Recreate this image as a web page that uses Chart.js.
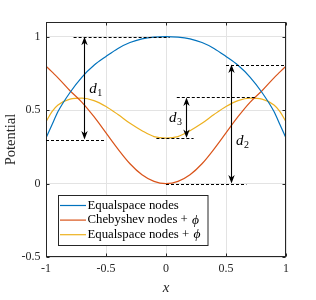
<!DOCTYPE html>
<html><head><meta charset="utf-8">
<script src="https://cdn.jsdelivr.net/npm/chart.js@4/dist/chart.umd.min.js"></script>
<style>html,body{margin:0;padding:0;background:#fff}canvas{display:block}</style>
</head><body>
<canvas id="c" width="316" height="300"></canvas>
<script>
// ---- data ----
const xValues       = [-1, -0.95, -0.9, -0.8, -0.7, -0.6, -0.5, -0.4, -0.3, -0.2, -0.1, 0, 0.1, 0.2, 0.3, 0.4, 0.5, 0.6, 0.7, 0.8, 0.9, 0.95, 1];
const equalspace    = [0.31, 0.40, 0.49, 0.62, 0.725, 0.805, 0.865, 0.92, 0.96, 0.985, 0.997, 1, 0.997, 0.985, 0.96, 0.92, 0.865, 0.805, 0.725, 0.62, 0.49, 0.40, 0.31];
const chebyshevPhi  = [0.80, 0.76, 0.72, 0.632, 0.553, 0.455, 0.345, 0.235, 0.135, 0.06, 0.015, 0, 0.015, 0.06, 0.135, 0.235, 0.345, 0.455, 0.553, 0.632, 0.72, 0.76, 0.80];
const equalspacePhi = [0.42, 0.49, 0.535, 0.575, 0.582, 0.565, 0.525, 0.47, 0.41, 0.36, 0.32, 0.31, 0.32, 0.36, 0.41, 0.47, 0.525, 0.565, 0.582, 0.575, 0.535, 0.49, 0.42];
const xTicks = [-1, -0.5, 0, 0.5, 1];
const yTicks = [-0.5, 0, 0.5, 1];
const seriesNames = ['Equalspace nodes', 'Chebyshev nodes + \u03d5', 'Equalspace nodes + \u03d5'];
// annotation values (data units)
const dashX1 = [-0.77, -1, 0.5, 0, 0.09, -0.08];
const dashX2 = [0.03, -0.5, 1, 0.67, 0.74, 0.23];
const dashY  = [1, 0.3, 0.81, 0, 0.586, 0.31];
const arrowX   = [-0.68, 0.54, 0.167];
const arrowLow = [0.3, 0, 0.31];
const arrowHigh= [1, 0.81, 0.586];
const arrowSub = ['1', '2', '3'];
const labelX   = [-0.64, 0.583, 0.025];
const labelY   = [0.62, 0.264, 0.42];

const colors = ['#0072BD', '#D95319', '#EDB120'];
const SERIF = '"Liberation Serif", "DejaVu Serif", serif';

function pts(ys) { return xValues.map((x, i) => ({x: x, y: ys[i]})); }

const annot = {
  id: 'annot',
  afterDraw(chart) {
    const {ctx, chartArea: a, scales} = chart;
    const X = v => scales.x.getPixelForValue(v), Y = v => scales.y.getPixelForValue(v);
    ctx.save();
    // box
    ctx.strokeStyle = '#262626'; ctx.lineWidth = 1; ctx.setLineDash([]);
    const L = Math.round(a.left) + 0.5, R = Math.round(a.right) - 0.5, T = Math.round(a.top) + 0.5, B = Math.round(a.bottom) - 0.5;
    ctx.strokeRect(L, T, R - L, B - T);
    // inward ticks
    ctx.beginPath();
    xTicks.forEach(v => { const p = Math.round(X(v)) + 0.5; ctx.moveTo(p, B); ctx.lineTo(p, B - 3); ctx.moveTo(p, T); ctx.lineTo(p, T + 3); });
    yTicks.forEach(v => { const p = Math.round(Y(v)) + 0.5; ctx.moveTo(L, p); ctx.lineTo(L + 3, p); ctx.moveTo(R, p); ctx.lineTo(R - 3, p); });
    ctx.stroke();
    // dashed lines
    ctx.strokeStyle = '#000'; ctx.lineWidth = 1; ctx.setLineDash([3, 2]);
    ctx.beginPath();
    dashY.forEach((y, i) => { const p = Math.round(Y(y)) + 0.5; ctx.moveTo(X(dashX1[i]), p); ctx.lineTo(X(dashX2[i]), p); });
    ctx.stroke();
    ctx.setLineDash([]);
    // arrows
    arrowX.forEach((x, i) => {
      const cx = Math.round(X(x)) + 0.5;
      const yTop = Y(arrowHigh[i]), yBot = Y(arrowLow[i]);
      ctx.strokeStyle = '#000'; ctx.fillStyle = '#000'; ctx.lineWidth = 1.1;
      ctx.beginPath(); ctx.moveTo(cx, yTop + 5); ctx.lineTo(cx, yBot - 5); ctx.stroke();
      [[yTop, 1], [yBot, -1]].forEach(([ty, d]) => {
        ctx.beginPath();
        ctx.moveTo(cx, ty);
        ctx.lineTo(cx - 3.2, ty + d * 8.5);
        ctx.lineTo(cx, ty + d * 6);
        ctx.lineTo(cx + 3.2, ty + d * 8.5);
        ctx.closePath(); ctx.fill();
      });
      // label d_i
      const lx = X(labelX[i]), ly = Y(labelY[i]);
      ctx.textBaseline = 'alphabetic'; ctx.textAlign = 'left';
      ctx.font = 'italic 15px ' + SERIF;
      ctx.fillText('d', lx, ly);
      const w = ctx.measureText('d').width;
      ctx.font = '10px ' + SERIF;
      ctx.fillText(arrowSub[i], lx + w + 0.5, ly + 3);
    });
    // legend
    const lgL = a.left + 12.5, lgT = a.top + 173.5, lgW = 149.5, lgH = 50;
    ctx.fillStyle = '#fff'; ctx.fillRect(lgL, lgT, lgW, lgH);
    ctx.strokeStyle = '#262626'; ctx.lineWidth = 1; ctx.strokeRect(lgL, lgT, lgW, lgH);
    seriesNames.forEach((name, i) => {
      const ry = lgT + 10 + i * 14.6;
      ctx.strokeStyle = colors[i]; ctx.lineWidth = 1.2;
      ctx.beginPath(); ctx.moveTo(lgL + 1.5, ry); ctx.lineTo(lgL + 27.5, ry); ctx.stroke();
      ctx.fillStyle = '#000'; ctx.textBaseline = 'middle'; ctx.textAlign = 'left';
      const k = name.indexOf('\u03d5');
      const main = k >= 0 ? name.slice(0, k) : name;
      ctx.font = '12.8px ' + SERIF;
      ctx.fillText(main, lgL + 29, ry);
      if (k >= 0) {
        const w = ctx.measureText(main).width;
        ctx.font = 'italic 13.5px ' + SERIF;
        ctx.fillText(name.slice(k), lgL + 29 + w + 1, ry);
      }
    });
    ctx.restore();
  }
};

new Chart(document.getElementById('c'), {
  type: 'line',
  data: {
    datasets: [
      {label: seriesNames[0], data: pts(equalspace), borderColor: colors[0]},
      {label: seriesNames[1], data: pts(chebyshevPhi), borderColor: colors[1]},
      {label: seriesNames[2], data: pts(equalspacePhi), borderColor: colors[2]}
    ].map(d => Object.assign(d, {borderWidth: 1.2, pointRadius: 0, fill: false, cubicInterpolationMode: 'monotone'}))
  },
  options: {
    responsive: false, animation: false, devicePixelRatio: 1,
    layout: {padding: {left: 0, top: 22, right: 30, bottom: 0}},
    plugins: {legend: {display: false}, tooltip: {enabled: false}},
    scales: {
      x: {
        type: 'linear', min: -1, max: 1,
        afterBuildTicks: s => { s.ticks = xTicks.map(v => ({value: v})); },
        afterFit: s => { s.height = 43; },
        grid: {color: '#e3e3e3', drawTicks: false},
        border: {display: false},
        ticks: {padding: 5, color: '#262626', font: {family: SERIF, size: 12}, callback: v => String(v), maxRotation: 0},
        title: {display: true, text: 'x', color: '#262626', font: {family: SERIF, size: 15, style: 'italic'}, padding: {top: 0, bottom: 3}}
      },
      y: {
        type: 'linear', min: -0.5, max: 1.1,
        afterBuildTicks: s => { s.ticks = yTicks.map(v => ({value: v})); },
        afterFit: s => { s.width = 46; },
        grid: {color: '#e3e3e3', drawTicks: false},
        border: {display: false},
        ticks: {padding: 5.5, color: '#262626', font: {family: SERIF, size: 12}, callback: v => String(v)},
        title: {display: true, text: 'Potential', color: '#262626', font: {family: SERIF, size: 14.5}, padding: {top: 2, bottom: 0}}
      }
    }
  },
  plugins: [annot]
});
</script>
</body></html>
